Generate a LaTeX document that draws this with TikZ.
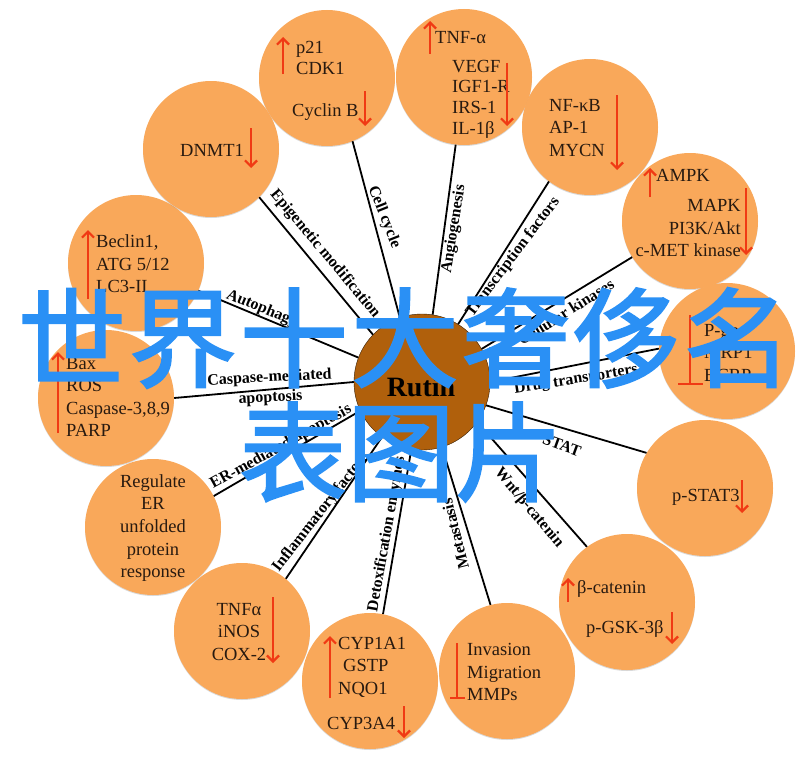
\documentclass[tikz,border=0pt]{standalone}
\usepackage{fontspec}
\setmainfont{Liberation Serif}
\newfontfamily\cjk[FakeBold=2]{Noto Sans CJK SC}
\newfontfamily\cjkwide[FakeBold=2, LetterSpace=2.8]{Noto Sans CJK SC}
\usetikzlibrary{arrows.meta, shadows}

\definecolor{petalfill}{RGB}{249, 168, 90}
\definecolor{rutinfill}{RGB}{176, 96, 12}
\definecolor{arrowred}{RGB}{240, 58, 20}
\definecolor{stampblue}{RGB}{42, 144, 245}
\definecolor{inkdark}{RGB}{40, 26, 16}

\tikzset{
  petal/.style={circle, fill=petalfill, minimum size=136pt, inner sep=0pt,
    drop shadow={opacity=0.3, shadow xshift=0pt, shadow yshift=-1pt}},
  hub/.style={circle, fill=rutinfill, draw=black!70!rutinfill, minimum size=136pt, inner sep=0pt},
  spoke/.style={line width=1.8pt, black},
  tight/.style={text=inkdark, font=\fontsize{18.5}{20.7}\selectfont, inner sep=0pt, align=left},
  loose/.style={text=inkdark, font=\fontsize{18.5}{22.6}\selectfont, inner sep=0pt, align=left},
  pathway/.style={font=\fontsize{16}{20}\selectfont\bfseries, inner sep=0pt, align=center},
  redup/.style={line width=2.2pt, arrowred, -{Straight Barb[length=6pt, width=12pt]}},
  reddown/.style={line width=2.2pt, arrowred, -{Straight Barb[length=6pt, width=12pt]}},
  redbar/.style={line width=2.2pt, arrowred, -{Bar[width=#1, line width=2.2pt]}},
  stamp/.style={text=stampblue, font=\fontsize{108}{108}\cjk, inner sep=0pt},
  stampwide/.style={text=stampblue, font=\fontsize{108}{108}\cjkwide, inner sep=0pt}
}

\begin{document}
\begin{tikzpicture}[x=1pt, y=-1pt]
  \useasboundingbox (0, 0) rectangle (808, 760);

  \node[hub] (rutin) at (422, 382) {};
  \node[petal] (cycle) at (327, 78) {};
  \node[petal] (angio) at (464, 77) {};
  \node[petal] (factors) at (590, 127) {};
  \node[petal] (kinases) at (690, 221) {};
  \node[petal] (drug) at (727, 351) {};
  \node[petal] (stat) at (705, 488) {};
  \node[petal] (wnt) at (627, 602) {};
  \node[petal] (meta) at (507, 671) {};
  \node[petal] (detox) at (370, 681) {};
  \node[petal] (inflam) at (242, 631) {};
  \node[petal] (er) at (153, 527) {};
  \node[petal] (caspase) at (106, 398) {};
  \node[petal] (autoph) at (136, 263) {};
  \node[petal] (epi) at (211, 149) {};

  \draw[spoke] (rutin.109) -- (cycle.-68);
  \draw[spoke] (rutin.81) -- (angio.-97);
  \draw[spoke] (rutin.58) -- (factors.-127);
  \draw[spoke] (rutin.29) -- (kinases.-148);
  \draw[spoke] (rutin.0) -- (drug.178);
  \draw[spoke] (rutin.-20) -- (stat.149);
  \draw[spoke] (rutin.-36) -- (wnt.126);
  \draw[spoke] (rutin.-73) -- (meta.104);
  \draw[spoke] (rutin.-99) -- (detox.79);
  \draw[spoke] (rutin.-126) -- (inflam.50);
  \draw[spoke] (rutin.-155) -- (er.27);
  \draw[spoke] (rutin.180) -- (caspase.0);
  \draw[spoke] (rutin.159) -- (autoph.-24);
  \draw[spoke] (rutin.136) -- (epi.-45);

  \node[font=\fontsize{28}{28}\selectfont\bfseries, inner sep=0pt] (rutinname) at (421, 387) {Rutin};

  \node[pathway, rotate=-50] (lepi) at (325, 254) {Epigenetic modification};
  \node[pathway, rotate=-68.5] (lcycle) at (384, 217) {Cell cycle};
  \node[pathway, rotate=81] (langio) at (454, 229) {Angiogenesis};
  \node[pathway, rotate=53] (lfactors) at (513, 257) {Transcription factors};
  \node[pathway, rotate=32] (lkinases) at (566, 312) {Cellular kinases};
  \node[pathway, rotate=9] (ldrug) at (576, 380) {Drug transporters};
  \node[pathway, rotate=-20] (lstat) at (562, 445) {STAT};
  \node[pathway, rotate=-50] (lwnt) at (529, 508) {Wnt/β-catenin};
  \node[pathway, rotate=104] (lmeta) at (455, 534) {Metastasis};
  \node[pathway, rotate=80] (ldetox) at (387, 534) {Detoxification enzymes};
  \node[pathway, rotate=52] (linflam) at (321, 512) {Inflammatory factors};
  \node[pathway, rotate=29] (ler) at (281, 447) {ER-mediated apoptosis};
  \node[pathway, rotate=3] (lcaspase) at (270, 388) {Caspase-mediated\\apoptosis};
  \node[pathway, rotate=-22.5] (lautoph) at (262, 309) {Autophagy};

  \node[tight, anchor=west] (tp21) at (296, 58) {p21\\CDK1};
  \node[tight, anchor=west] (tcyclin) at (292, 112) {Cyclin B};
  \node[tight, anchor=west] (tdnmt) at (180, 150) {DNMT1};
  \node[tight, anchor=west] (ttnf) at (435, 38) {TNF-α};
  \node[tight, anchor=west] (tvegf) at (452, 99) {VEGF\\IGF1-R\\IRS-1\\IL-1β};
  \node[loose, anchor=west] (tnfkb) at (549, 128) {NF-κB\\AP-1\\MYCN};
  \node[tight, anchor=west] (tampk) at (656, 175) {AMPK};
  \node[loose, anchor=east, align=right] (tmapk) at (741, 228) {MAPK\\PI3K/Akt\\c-MET kinase};
  \node[loose, anchor=west] (tpgp) at (704, 353) {P-gp\\MRP1\\BCRP};
  \node[tight, anchor=west] (tstat) at (672, 497) {p-STAT3};
  \node[tight, anchor=west] (tcatenin) at (577, 589) {β-catenin};
  \node[tight, anchor=west] (tgsk) at (586, 629) {p-GSK-3β};
  \node[loose, anchor=west] (tinv) at (467, 672) {Invasion\\Migration\\MMPs};
  \node[loose, anchor=west] (tcyp) at (338, 667) {CYP1A1\\\hspace{5pt}GSTP\\NQO1};
  \node[tight, anchor=west] (tcyp3) at (327, 723) {CYP3A4};
  \node[loose, align=center] (ttnfa) at (239, 632) {TNFα\\iNOS\\COX-2};
  \node[loose, align=center] (tregulate) at (153, 528) {Regulate\\ER\\unfolded\\protein\\response};
  \node[loose, anchor=west] (tbax) at (66, 397) {Bax\\ROS\\Caspase-3,8,9\\PARP};
  \node[loose, anchor=west] (tbeclin) at (96, 264) {Beclin1,\\ATG 5/12\\LC3-II};

  \coordinate (p21tail) at (283, 74);
  \coordinate (p21tip) at (283, 37);
  \coordinate (cyclintail) at (365, 91);
  \coordinate (cyclintip) at (365, 126);
  \coordinate (dnmttail) at (251, 128);
  \coordinate (dnmttip) at (251, 168);
  \coordinate (tnftail) at (430, 54);
  \coordinate (tnftip) at (430, 21);
  \coordinate (vegftail) at (507, 63);
  \coordinate (vegftip) at (507, 126);
  \coordinate (nfkbtail) at (617, 95);
  \coordinate (nfkbtip) at (617, 170);
  \coordinate (ampktail) at (650, 197);
  \coordinate (ampktip) at (650, 168);
  \coordinate (mapktail) at (746, 188);
  \coordinate (mapktip) at (746, 255);
  \coordinate (pgptail) at (690, 315);
  \coordinate (pgptip) at (690, 385);
  \coordinate (stattail) at (742, 480);
  \coordinate (stattip) at (742, 513);
  \coordinate (catenintail) at (568, 602);
  \coordinate (catenintip) at (568, 578);
  \coordinate (gsktail) at (672, 612);
  \coordinate (gsktip) at (672, 644);
  \coordinate (invtail) at (457, 643);
  \coordinate (invtip) at (457, 699);
  \coordinate (cyptail) at (330, 698);
  \coordinate (cyptip) at (330, 636);
  \coordinate (cypthreetail) at (404, 706);
  \coordinate (cypthreetip) at (404, 738);
  \coordinate (tnfatail) at (273, 597);
  \coordinate (tnfatip) at (273, 663);
  \coordinate (baxtail) at (58, 433);
  \coordinate (baxtip) at (58, 352);
  \coordinate (beclintail) at (88, 299);
  \coordinate (beclintip) at (88, 230);

  \draw[redup] (p21tail) -- (p21tip);
  \draw[reddown] (cyclintail) -- (cyclintip);
  \draw[reddown] (dnmttail) -- (dnmttip);
  \draw[redup] (tnftail) -- (tnftip);
  \draw[reddown] (vegftail) -- (vegftip);
  \draw[reddown] (nfkbtail) -- (nfkbtip);
  \draw[redup] (ampktail) -- (ampktip);
  \draw[reddown] (mapktail) -- (mapktip);
  \draw[redbar=25pt] (pgptail) -- (pgptip);
  \draw[reddown] (stattail) -- (stattip);
  \draw[redup] (catenintail) -- (catenintip);
  \draw[reddown] (gsktail) -- (gsktip);
  \draw[redbar=15pt] (invtail) -- (invtip);
  \draw[redup] (cyptail) -- (cyptip);
  \draw[reddown] (cypthreetail) -- (cypthreetip);
  \draw[reddown] (tnfatail) -- (tnfatip);
  \draw[redup] (baxtail) -- (baxtip);
  \draw[redup] (beclintail) -- (beclintip);

  \node[stampwide] (stampone) at (405, 338) {世界十大奢侈名};
  \node[stamp] (stamptwo) at (401, 452) {表图片};
\end{tikzpicture}
\end{document}
